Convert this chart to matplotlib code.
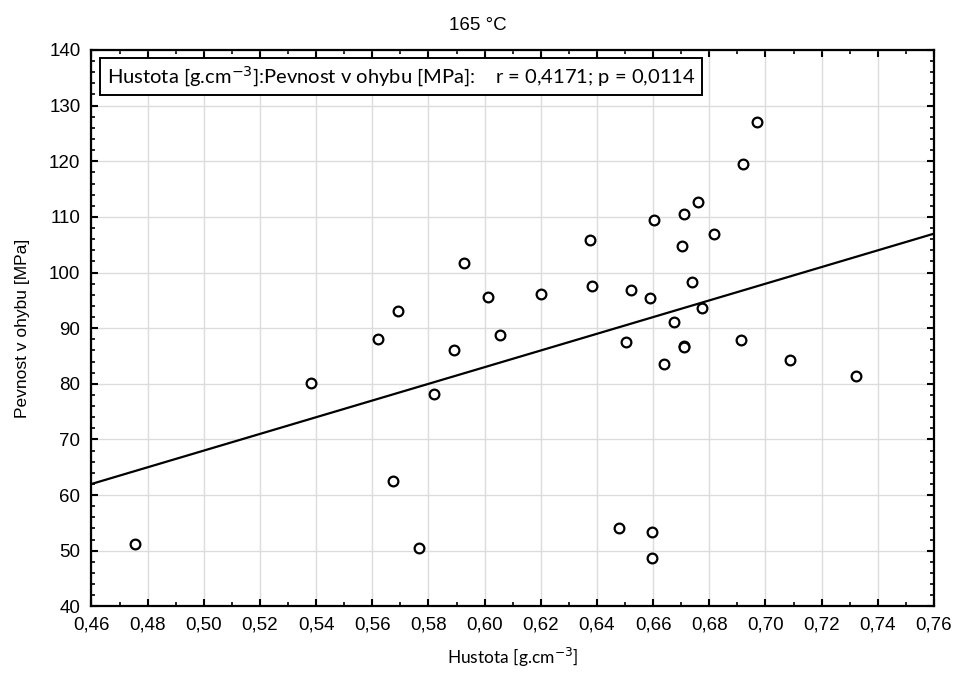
import numpy as np
import matplotlib
matplotlib.use("Agg")
import matplotlib.pyplot as plt
from matplotlib.ticker import MultipleLocator, FuncFormatter

# hustota [g.cm-3] a pevnost v ohybu [MPa]
hustota = [0.4755, 0.5383, 0.5620, 0.5675, 0.5692, 0.5767, 0.5820, 0.5890,
           0.5927, 0.6013, 0.6056, 0.6199, 0.6374, 0.6381, 0.6480, 0.6502,
           0.6522, 0.6587, 0.6595, 0.6595, 0.6602, 0.6638, 0.6673, 0.6702,
           0.6709, 0.6709, 0.6711, 0.6738, 0.6759, 0.6773, 0.6816, 0.6914,
           0.6921, 0.6969, 0.7087, 0.7322]
pevnost = [51.2, 80.2, 88.1, 62.6, 93.1, 50.5, 78.1, 86.0,
           101.7, 95.6, 88.8, 96.1, 105.9, 97.6, 54.0, 87.5,
           96.9, 95.4, 53.4, 48.7, 109.4, 83.6, 91.1, 104.8,
           110.5, 86.8, 86.6, 98.3, 112.7, 93.6, 106.9, 87.8,
           119.5, 127.1, 84.2, 81.4]

titulek = "165 °C"
popis_x = "Hustota [g.cm$^{-3}$]"
popis_y = "Pevnost v ohybu [MPa]"
popis_r = "Hustota [g.cm$^{-3}$]:Pevnost v ohybu [MPa]:    r = 0,4171; p = 0,0114"

x = np.array(hustota)
y = np.array(pevnost)

# regresni primka
k, q = np.polyfit(x, y, 1)
xs = np.array([0.46, 0.76])
ys = k * xs + q

fig = plt.figure(figsize=(9.55, 6.82), dpi=100)
ax = fig.add_axes([0.0958, 0.111, 0.8822, 0.8157])

ax.plot(xs, ys, color="black", lw=1.6, zorder=2)
ax.plot(x, y, "o", mfc="white", mec="black", mew=1.6, ms=7, zorder=3)

ax.set_xlim(0.46, 0.76)
ax.set_ylim(40, 140)
ax.xaxis.set_major_locator(MultipleLocator(0.02))
ax.xaxis.set_minor_locator(MultipleLocator(0.01))
ax.yaxis.set_major_locator(MultipleLocator(10))
ax.yaxis.set_minor_locator(MultipleLocator(2))
ax.xaxis.set_major_formatter(FuncFormatter(lambda v, p: f"{v:.2f}".replace(".", ",")))
ax.yaxis.set_major_formatter(FuncFormatter(lambda v, p: f"{v:.0f}"))

ax.grid(True, which="major", color="#dcdcdc", lw=1.0, zorder=0)
ax.tick_params(which="both", direction="in", top=True, right=True, colors="black")
ax.tick_params(which="major", length=5, width=1.5, labelsize=13.5)
ax.tick_params(axis="x", which="major", pad=7)
ax.tick_params(axis="y", which="major", pad=8)
ax.tick_params(which="minor", length=3, width=1.2)
for lab in ax.get_xticklabels() + ax.get_yticklabels():
    lab.set_family("Liberation Sans")
for s in ax.spines.values():
    s.set_linewidth(1.6)

ax.set_xlabel(popis_x, family="Lato", fontsize=12.5, labelpad=9)
ax.set_ylabel(popis_y, family="Liberation Sans", fontsize=12.5, labelpad=14)
# titulek je vystredeny na celou figuru, ne na osy
fig.text(0.5, 0.963, titulek, family="Liberation Sans", fontsize=13.5,
         ha="center", va="center")

ax.text(0.0184, 0.9523, popis_r, transform=ax.transAxes, family="Lato",
        fontsize=14.5, va="center", ha="left",
        bbox=dict(boxstyle="square,pad=0.33", fc="white", ec="black", lw=1.4))

fig.savefig("out.png", dpi=100)
